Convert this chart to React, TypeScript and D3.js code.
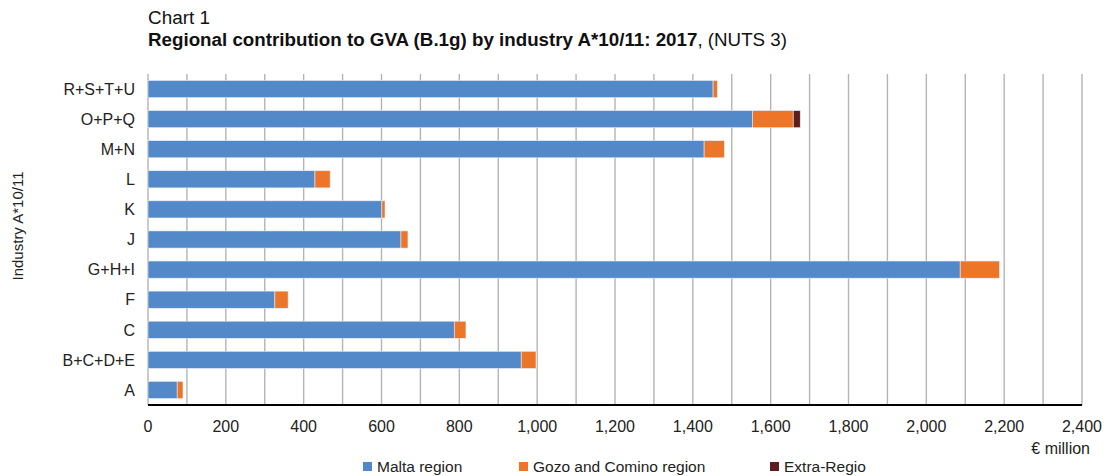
import React from "react";
import * as d3 from "d3";

const categories = ["R+S+T+U", "O+P+Q", "M+N", "L", "K", "J", "G+H+I", "F", "C", "B+C+D+E", "A"];
const malta = [1452, 1553, 1429, 429, 601, 650, 2087, 326, 787, 959, 75];
const gozo = [11, 105, 52, 39, 8, 18, 101, 34, 30, 38, 15];
const extra = [0, 18, 0, 0, 0, 0, 0, 0, 0, 0, 0];
const seriesNames = ["Malta region", "Gozo and Comino region", "Extra-Regio"];
const colors = ["#5489C9", "#EC7527", "#5E1E1E"];
const xTicks = d3.range(0, 2401, 200);
const xGrid = d3.range(0, 2401, 100);

const W = 1112;
const H = 476;
const left = 148;
const right = 1082;
const top = 74;
const bottom = 405;
const font = "'Liberation Sans', Arial, sans-serif";

export default function App() {
  const x = d3.scaleLinear().domain([0, 2400]).range([left, right]);
  const y = d3.scaleBand().domain(categories).range([top, bottom]).paddingInner(0.43).paddingOuter(0.215);
  const fmt = d3.format(",");
  const stacks = categories.map((c, i) => {
    const vals = [malta[i], gozo[i], extra[i]];
    let acc = 0;
    return vals.map((v) => {
      const s = acc;
      acc += v;
      return [s, acc];
    });
  });
  const legendX = [363, 519, 770];
  return (
    <svg width={W} height={H} style={{ position: "absolute", left: 0, top: 0, fontFamily: font }}>
      <rect width={W} height={H} fill="#fff" />
      <text x={148} y={24} fontSize={18} fill="#111" textLength={62} lengthAdjust="spacingAndGlyphs">Chart 1</text>
      <text x={148} y={46} fontSize={18} fill="#111" textLength={639} lengthAdjust="spacingAndGlyphs">
        <tspan fontWeight="bold">Regional contribution to GVA (B.1g) by industry A*10/11: 2017</tspan>
        <tspan>, (NUTS 3)</tspan>
      </text>
      {xGrid.map((t) => (
        <line key={t} x1={x(t)} x2={x(t)} y1={top} y2={bottom} stroke="#b4b4b4" strokeWidth={1.4} />
      ))}
      {categories.map((c, i) => (
        <g key={c}>
          {stacks[i].map(([s, e], k) =>
            e > s ? (
              <rect key={k} x={x(s)} y={y(c)!} width={x(e) - x(s)} height={y.bandwidth()} fill={colors[k]} stroke="#e8eef8" strokeWidth={0.6} />
            ) : null
          )}
          <text x={135} y={y(c)! + y.bandwidth() / 2} dy="0.36em" textAnchor="end" fontSize={16} fill="#222">{c}</text>
        </g>
      ))}
      <line x1={left} x2={right} y1={bottom} y2={bottom} stroke="#000" strokeWidth={2} />
      {xTicks.map((t) => (
        <text key={t} x={x(t)} y={432} textAnchor="middle" fontSize={16} fill="#222">{fmt(t)}</text>
      ))}
      <text x={1090} y={454} textAnchor="end" fontSize={16} fill="#222">€ million</text>
      <text transform={`translate(23,226) rotate(-90)`} textAnchor="middle" fontSize={15} fill="#222">Industry A*10/11</text>
      {seriesNames.map((n, k) => (
        <g key={n}>
          <rect x={legendX[k]} y={462} width={9} height={9} fill={colors[k]} />
          <text x={legendX[k] + 14} y={472} fontSize={15.5} fill="#222">{n}</text>
        </g>
      ))}
    </svg>
  );
}
